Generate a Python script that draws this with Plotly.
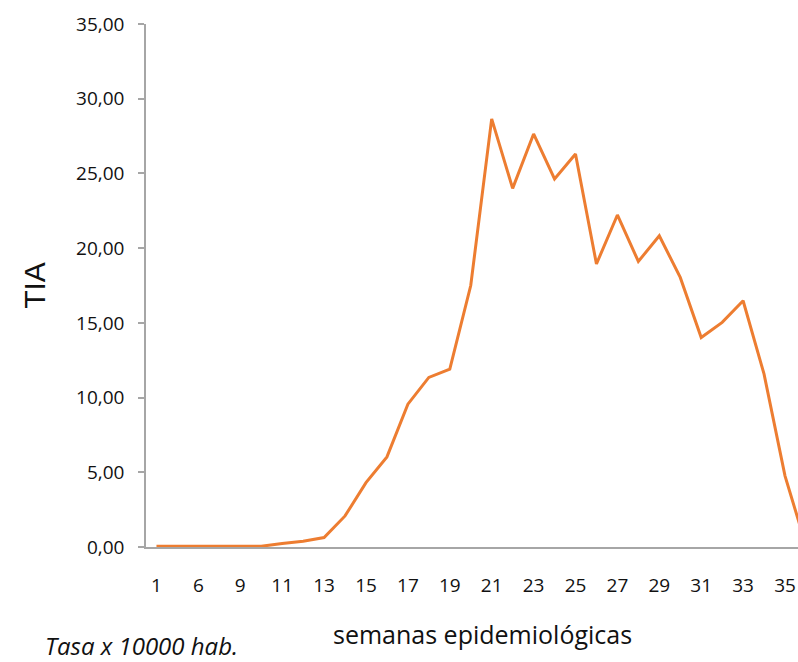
import plotly.graph_objects as go

weeks = ["1", "4", "6", "8", "9", "10", "11", "12", "13", "14", "15", "16",
         "17", "18", "19", "20", "21", "22", "23", "24", "25", "26", "27",
         "28", "29", "30", "31", "32", "33", "34", "35", "36"]
tia = [0.05, 0.05, 0.05, 0.05, 0.05, 0.05, 0.23, 0.38, 0.63, 2.08, 4.31, 6.03,
       9.56, 11.35, 11.9, 17.5, 28.65, 24.0, 27.64, 24.63, 26.3, 18.94, 22.22,
       19.11, 20.83, 18.04, 14.02, 15.03, 16.48, 11.57, 4.76, 0.1]
y_ticks = [0, 5, 10, 15, 20, 25, 30, 35]

font_main = "'Open Sans', Lato, Arial, sans-serif"

fig = go.Figure()
fig.add_trace(go.Scatter(
    x=weeks, y=tia, mode="lines",
    line=dict(color="#ED7D31", width=3),
    showlegend=False, hoverinfo="x+y",
))

fig.update_layout(
    width=798, height=662,
    margin=dict(l=146, r=0, t=24, b=115),
    paper_bgcolor="white", plot_bgcolor="white",
    separators=",.",
    font=dict(family=font_main, size=19, color="#111111"),
    xaxis=dict(
        type="category",
        range=[-0.5, 30.62],
        tickmode="array",
        tickvals=weeks[::2],
        ticktext=weeks[::2],
        showline=True, linecolor="#a6a6a6", linewidth=1.5,
        showgrid=False, zeroline=False,
        ticks="", ticklabelstandoff=20,
        tickfont=dict(family=font_main, size=19, color="#111111"),
    ),
    yaxis=dict(
        range=[0, 35],
        tickmode="array",
        tickvals=y_ticks,
        tickformat=".2f",
        showline=True, linecolor="#a6a6a6", linewidth=1.5,
        showgrid=False, zeroline=False,
        ticks="outside", ticklen=6, tickcolor="#a6a6a6", tickwidth=1.5,
        ticklabelstandoff=10,
        tickfont=dict(family=font_main, size=19, color="#111111"),
        title=dict(text="TIA",
                   font=dict(family="'Liberation Sans', Arial, sans-serif", size=30, color="#111111"),
                   standoff=22),
    ),
    annotations=[
        dict(
            text="semanas epidemiológicas",
            xref="paper", yref="paper",
            x=(482 - 146) / 652, y=(547 - 634) / 523,
            xanchor="center", yanchor="middle",
            showarrow=False, borderpad=0,
            font=dict(family=font_main, size=25, color="#111111"),
        ),
        dict(
            text="<i>Tasa x 10000 hab.</i>",
            xref="paper", yref="paper",
            x=(44 - 146) / 652, y=(547 - 663) / 523,
            xanchor="left", yanchor="bottom",
            showarrow=False, borderpad=0,
            font=dict(family=font_main, size=24, color="#111111"),
        ),
    ],
)

fig.write_html("out.html",
               config={"displayModeBar": False},
               post_script="document.body.style.margin='0px';document.body.style.overflow='hidden';")
